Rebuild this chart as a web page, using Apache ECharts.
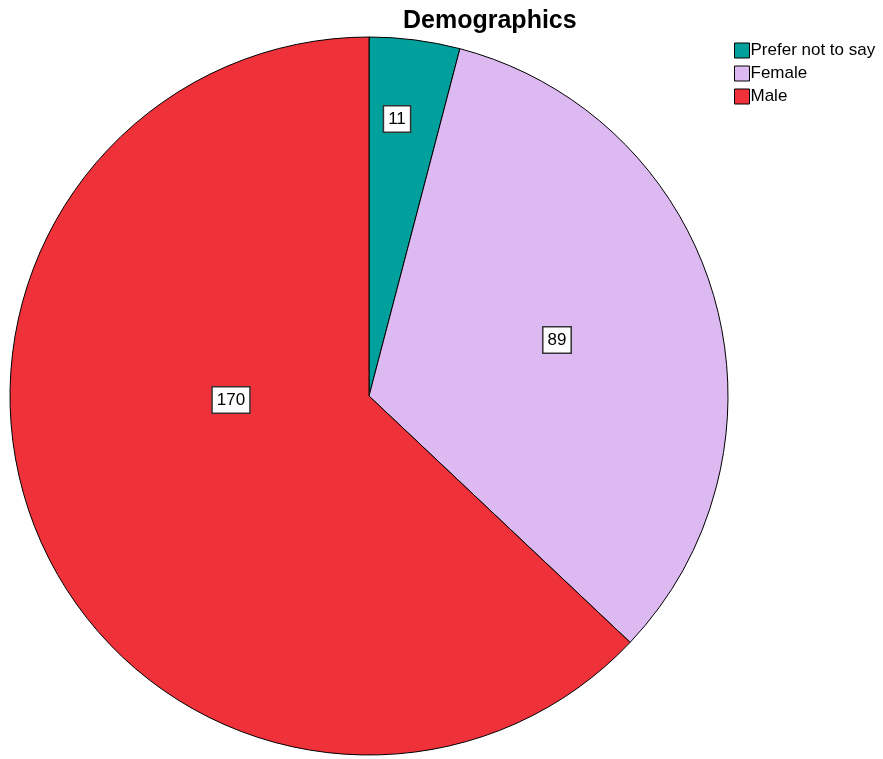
<!DOCTYPE html>
<html>
<head>
	<meta charset="utf-8" />
	<title>Demographics</title>
	<script src="https://cdn.jsdelivr.net/npm/echarts@6/dist/echarts.min.js"></script>
	<style>
		html, body { margin: 0; padding: 0; background: #fff; }
		#chart { width: 883px; height: 759px; }
	</style>
</head>
<body>
<div id="chart"></div>
<script type="text/javascript">
	// values
	var categories = ['Prefer not to say', 'Female', 'Male'];
	var counts = [11, 89, 170];
	var colors = ['#00a19c', '#ddb9f1', '#ef323a'];

	var myChart = echarts.init(document.getElementById('chart'));

	// SPSS puts the value boxes at its own spots, not on the mid radius
	var labelSpots = [[397, 119], [557, 340], [231, 400]];

	var pieData = [];
	for (var i = 0; i < categories.length; i++) {
		pieData.push({ name: categories[i], value: counts[i], itemStyle: { color: colors[i] } });
	}

	var option = {
		animation: false,
		title: {
			text: 'Demographics',
			left: 398,
			top: 4,
			textStyle: { fontFamily: 'Liberation Sans', fontSize: 25, fontWeight: 'bold', color: '#000' }
		},
		legend: {
			orient: 'vertical',
			left: 734,
			top: 42,
			padding: 0,
			icon: 'rect',
			itemWidth: 15,
			itemHeight: 15,
			itemGap: 6,
			data: categories,
			itemStyle: { borderColor: '#000', borderWidth: 1 },
			textStyle: { fontFamily: 'Liberation Sans', fontSize: 17, color: '#000', padding: [0, 0, 0, -4] }
		},
		series: [{
			type: 'pie',
			center: [369, 396],
			radius: [0, 359],
			startAngle: 90,
			clockwise: true,
			silent: true,
			itemStyle: { borderColor: '#000', borderWidth: 1 },
			label: {
				show: true,
				position: 'inside',
				formatter: '{c}',
				fontFamily: 'Liberation Sans',
				fontSize: 17,
				color: '#000',
				backgroundColor: '#fff',
				borderColor: '#333',
				borderWidth: 1.5,
				padding: [4, 4, 3, 4],
				lineHeight: 18
			},
			labelLayout: function (p) {
				var s = labelSpots[p.dataIndex];
				return { x: s[0], y: s[1], align: 'center', verticalAlign: 'middle' };
			},
			data: pieData
		}]
	};
	myChart.setOption(option);
</script>
</body>
</html>
